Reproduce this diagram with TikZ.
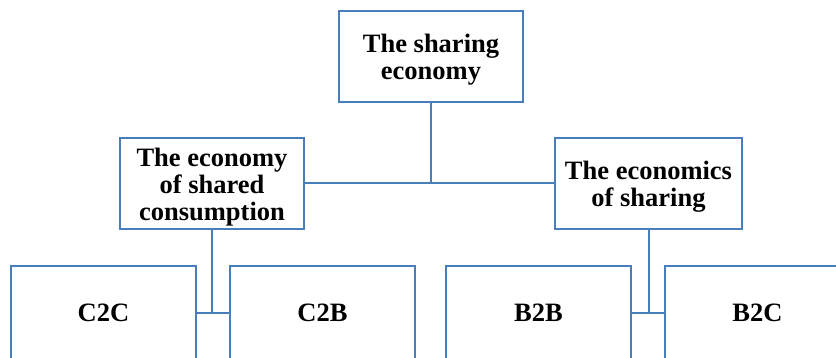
\documentclass[tikz,border=0pt]{standalone}
\usepackage{fontspec}
\setmainfont{Liberation Serif}
\definecolor{boxline}{RGB}{74,126,187}
% a taller first line moves a block of lines a little lower in its box
\newcommand{\toplift}{\rule{0pt}{25pt}}
\begin{document}
\begin{tikzpicture}[x=1pt,y=-1pt,
  box/.style={draw=boxline,line width=2pt,fill=white,align=center,
    font=\fontsize{26.5}{27}\selectfont\bfseries,inner sep=0pt},
  link/.style={draw=boxline,line width=2pt}]
\useasboundingbox (0,0) rectangle (836,358);
\clip (0,0) rectangle (836,358);
% top level
\node[box,minimum width=184pt,minimum height=91pt] (top) at (431,56.5) {\toplift The sharing\\economy};
% second level
\node[box,minimum width=184pt,minimum height=91pt] (cons) at (212,183.5) {\toplift The economy\\of shared\\consumption};
\node[box,minimum width=187pt,minimum height=91pt] (econ) at (648.5,183.5) {\toplift The economics\\of sharing};
% third level (boxes run past the lower edge)
\node[box,minimum width=185pt,minimum height=94pt] (c2c) at (103.5,313) {C2C};
\node[box,minimum width=185pt,minimum height=94pt] (c2b) at (322.5,313) {C2B};
\node[box,minimum width=185pt,minimum height=94pt] (b2b) at (538.5,313) {B2B};
\node[box,minimum width=185pt,minimum height=94pt] (b2c) at (757.5,313) {B2C};
% connectors
\draw[link] (cons.east) -- (econ.west);
\draw[link] (top.south) -- (top.south |- cons.east);
\draw[link] (c2c.east) -- (c2b.west);
\draw[link] (cons.south) -- (cons.south |- c2c.east);
\draw[link] (b2b.east) -- (b2c.west);
\draw[link] (econ.south) -- (econ.south |- b2b.east);
\end{tikzpicture}
\end{document}
